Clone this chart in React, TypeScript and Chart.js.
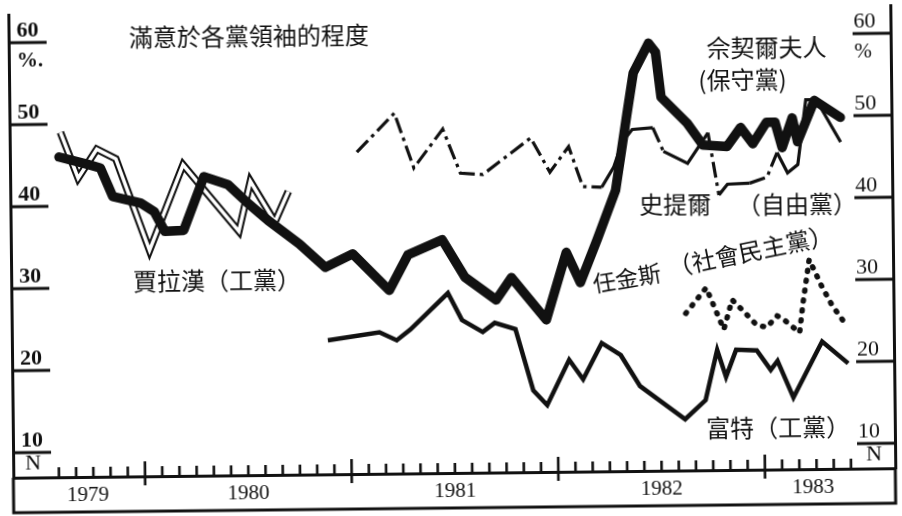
import React, { useEffect, useRef } from 'react';
import { Chart, registerables } from 'chart.js';

Chart.register(...registerables);

// Months are counted from January 1979 (0 = Jan 1979, 12 = Jan 1980 ...)
const yearLabels = ['1979', '1980', '1981', '1982', '1983'];
const yTickValues = [10, 20, 30, 40, 50, 60];

// 佘契爾夫人（保守黨）
const thatcherMonths = [7.2, 8.8, 9.6, 10.3, 11.9, 12.7, 13.3, 14.4, 15.6, 17.0, 18.1, 19.3, 21.1, 22.6, 24.2, 26.3, 27.4, 29.4, 30.7, 32.5, 33.4, 35.4, 36.6, 37.4, 38.4, 39.5, 40.2, 40.6, 41.5, 41.9, 42.2, 43.7, 44.6, 46.0, 46.8, 47.5, 48.3, 48.8, 49.2, 49.8, 50.1, 51.1, 52.6];
const thatcherValues = [46.0, 45.1, 44.6, 41.1, 40.3, 39.2, 36.8, 36.9, 43.4, 42.4, 40.2, 38.0, 35.1, 32.2, 33.8, 29.3, 33.6, 35.4, 30.8, 28.0, 30.7, 25.5, 33.7, 30.0, 35.2, 41.2, 50.4, 55.5, 59.1, 58.0, 52.5, 49.3, 46.6, 46.4, 48.7, 46.7, 49.3, 49.3, 46.2, 49.8, 46.9, 51.9, 49.8];

// 賈拉漢（工黨）
const callaghanMonths = [7.3, 8.3, 9.4, 10.5, 12.4, 14.4, 17.6, 18.3, 19.7, 20.5];
const callaghanValues = [49.0, 43.4, 46.9, 45.7, 34.5, 44.9, 36.7, 42.8, 37.8, 41.5];

// 富特（工黨）
const footMonths = [22.7, 25.7, 26.7, 27.5, 29.7, 30.5, 31.7, 32.4, 33.6, 34.6, 35.4, 36.7, 37.5, 38.6, 39.7, 40.8, 43.4, 44.6, 45.3, 45.8, 46.4, 47.6, 48.4, 48.8, 49.7, 51.4, 52.9];
const footValues = [23.3, 24.2, 23.2, 24.5, 28.9, 25.6, 24.1, 25.2, 24.4, 16.9, 15.1, 20.6, 18.2, 22.6, 21.1, 17.3, 13.2, 15.5, 21.6, 18.3, 21.6, 21.5, 19.1, 20.2, 15.7, 22.5, 19.8];

// 史提爾（自由黨）
const steelMonths = [24.5, 26.7, 27.8, 29.5, 30.5, 31.8, 34.6, 35.7, 36.8, 37.6, 38.7, 39.4, 39.9, 40.5, 41.7, 42.3, 43.7, 44.9, 45.5, 46.0, 47.3, 48.3, 48.9, 49.5, 50.1, 50.6, 51.2, 52.6];
const steelValues = [46.2, 50.9, 44.2, 48.9, 43.5, 43.3, 47.7, 43.5, 46.6, 41.7, 41.6, 44.0, 47.0, 48.6, 48.8, 45.9, 44.4, 48.1, 40.5, 41.8, 41.9, 42.6, 45.6, 43.1, 44.1, 52.0, 52.0, 46.8];

// 任金斯（社會民主黨）
const jenkinsMonths = [43.5, 44.7, 45.7, 46.2, 46.9, 47.6, 48.2, 48.8, 49.2, 50.1, 50.3, 50.7, 51.4, 52.0, 52.6];
const jenkinsValues = [26.1, 29.2, 24.1, 27.7, 26.2, 24.6, 24.3, 25.7, 25.2, 23.6, 27.0, 32.5, 29.3, 26.9, 25.1];

// ---- styling / layout ----
const INK = '#111111';
const SERIF = '"Liberation Serif", "DejaVu Serif", serif';
const CJK = '"Noto Sans CJK TC", "Noto Sans CJK SC", sans-serif';

const X_MIN = 4.35;
const X_MAX = 55.57;
const Y_MIN = 6.95;
const Y_MAX = 63.41;
const FIRST_MONTH_TICK = 7;
const LAST_MONTH_TICK = 53;

// dash-dot stretches of the Liberal line (by starting month of a segment)
const STEEL_DASH_RANGES = [[0, 38.0], [41.6, 41.8], [44.8, 45.0], [47.2, 48.4]];
const steelDashed = (m: number) => STEEL_DASH_RANGES.some(([a, b]) => m >= a && m <= b);

// text annotations anchored in data coordinates
const annotations = [
  { text: '滿意於各黨領袖的程度', x: 18.3, y: 60.5, size: 24, angle: 0 },
  { text: '佘契爾夫人', x: 48.35, y: 58.4, size: 24, angle: 0 },
  { text: '(保守黨)', x: 46.94, y: 54.5, size: 24, angle: 0 },
  { text: '史提爾', x: 42.95, y: 39.45, size: 24, angle: 0 },
  { text: '（自由黨）', x: 50.03, y: 39.3, size: 24, angle: 0 },
  { text: '任金斯', x: 40.1, y: 30.45, size: 23, angle: -9 },
  { text: '（社會民主黨）', x: 47.3, y: 33.6, size: 24, angle: -11 },
  { text: '賈拉漢（工黨）', x: 16.3, y: 30.8, size: 24, angle: 0 },
  { text: '富特（工黨）', x: 48.79, y: 12.1, size: 24, angle: 0 },
];

const pts = (ms: number[], vs: number[]) => ms.map((m, i) => ({ x: m, y: vs[i] }));

const labelLo = X_MIN + 1;
const labelHi = LAST_MONTH_TICK + 0.6;
const yearTickValues = yearLabels.map((_, i) => (Math.max(12 * i, labelLo) + Math.min(12 * (i + 1), labelHi)) / 2);

const decorPlugin = {
  id: 'decor',
  afterDraw(chart: any) {
    const { ctx, chartArea } = chart;
    const { left, right, bottom } = chartArea;
    const xs = chart.scales.x;
    const ys = chart.scales.y;
    const frameBottom = xs.bottom;
    ctx.save();
    ctx.strokeStyle = INK;
    ctx.fillStyle = INK;
    ctx.lineCap = 'butt';

    // frame below the axis and the short value ticks
    ctx.lineWidth = 3;
    ctx.beginPath();
    ctx.moveTo(left, bottom);
    ctx.lineTo(left, frameBottom + 1.5);
    ctx.moveTo(right, bottom);
    ctx.lineTo(right, frameBottom + 1.5);
    ctx.moveTo(left, frameBottom);
    ctx.lineTo(right, frameBottom);
    for (const v of yTickValues) {
      const py = ys.getPixelForValue(v);
      ctx.moveTo(left, py);
      ctx.lineTo(left + 38, py);
      ctx.moveTo(right - 38, py);
      ctx.lineTo(right, py);
    }
    ctx.stroke();

    // month ticks, longer at year boundaries
    ctx.lineWidth = 2.6;
    ctx.beginPath();
    for (let m = FIRST_MONTH_TICK; m <= LAST_MONTH_TICK; m++) {
      const px = xs.getPixelForValue(m);
      const major = m % 12 === 0;
      ctx.moveTo(px, bottom + (major ? 9 : 0));
      ctx.lineTo(px, bottom - (major ? 15 : 10));
    }
    ctx.stroke();

    // unit marks
    ctx.textBaseline = 'middle';
    ctx.font = `bold 21px ${SERIF}`;
    ctx.textAlign = 'left';
    ctx.fillText('%.', left + 8, ys.getPixelForValue(57.7));
    ctx.font = `21px ${SERIF}`;
    ctx.textAlign = 'right';
    ctx.fillText('%', right - 19, ys.getPixelForValue(57.8));
    ctx.font = `22px ${SERIF}`;
    ctx.textAlign = 'left';
    ctx.fillText('N', left + 12, ys.getPixelForValue(8.66));
    ctx.textAlign = 'right';
    ctx.fillText('N', right - 13, ys.getPixelForValue(8.66));

    // labels
    ctx.textAlign = 'center';
    for (const a of annotations) {
      ctx.save();
      ctx.translate(xs.getPixelForValue(a.x), ys.getPixelForValue(a.y));
      ctx.rotate((a.angle * Math.PI) / 180);
      ctx.font = `${a.size}px ${CJK}`;
      ctx.fillText(a.text, 0, 0);
      ctx.restore();
    }
    ctx.restore();
  },
};

export default function App() {
  const ref = useRef<HTMLCanvasElement>(null);

  useEffect(() => {
    if (!ref.current) return;
    const yAxis = (position: 'left' | 'right', padding: number, weight: string) => ({
      type: 'linear' as const,
      position,
      min: Y_MIN,
      max: Y_MAX,
      afterBuildTicks: (s: any) => {
        s.ticks = yTickValues.map((v) => ({ value: v }));
      },
      afterFit: (s: any) => {
        s.width = 0;
        s.paddingTop = 0;
        s.paddingBottom = 0;
      },
      ticks: {
        mirror: true,
        padding,
        labelOffset: -12,
        autoSkip: false,
        color: INK,
        font: { family: SERIF, size: 22, weight },
        callback: (v: any) => String(v),
      },
      grid: { display: false, drawTicks: false },
      border: { display: true, color: INK, width: 3 },
    });

    const chart = new Chart(ref.current, {
      type: 'line',
      data: {
        datasets: [
          {
            label: '佘契爾夫人（保守黨）',
            data: pts(thatcherMonths, thatcherValues),
            borderColor: INK,
            borderWidth: 9.5,
            borderJoinStyle: 'round',
            borderCapStyle: 'round',
            pointRadius: 0,
            tension: 0,
            fill: false,
          },
          {
            label: '賈拉漢（工黨）',
            data: pts(callaghanMonths, callaghanValues),
            borderColor: '#ffffff',
            borderWidth: 3.5,
            borderJoinStyle: 'miter',
            pointRadius: 0,
            tension: 0,
            fill: false,
          },
          {
            label: '賈拉漢（工黨）',
            data: pts(callaghanMonths, callaghanValues),
            borderColor: INK,
            borderWidth: 7.5,
            borderJoinStyle: 'miter',
            pointRadius: 0,
            tension: 0,
            fill: false,
          },
          {
            label: '富特（工黨）',
            data: pts(footMonths, footValues),
            borderColor: INK,
            borderWidth: 4.5,
            borderJoinStyle: 'miter',
            pointRadius: 0,
            tension: 0,
            fill: false,
          },
          {
            label: '史提爾（自由黨）',
            data: pts(steelMonths, steelValues),
            borderColor: INK,
            borderWidth: 3.2,
            borderJoinStyle: 'miter',
            pointRadius: 0,
            tension: 0,
            fill: false,
            segment: {
              borderDash: (c: any) => (steelDashed(c.p0.parsed.x) ? [16, 5, 3.5, 5] : undefined),
            },
          },
          {
            label: '任金斯（社會民主黨）',
            data: pts(jenkinsMonths, jenkinsValues),
            borderColor: INK,
            borderWidth: 5.5,
            borderDash: [1, 9],
            borderCapStyle: 'round',
            pointRadius: 0,
            tension: 0,
            fill: false,
          },
        ] as any,
      },
      options: {
        responsive: false,
        animation: false,
        events: [],
        layout: { padding: { left: 11, right: 9, top: 10, bottom: 8 } },
        plugins: {
          legend: { display: false },
          tooltip: { enabled: false },
          title: { display: false },
        },
        scales: {
          x: {
            type: 'linear',
            min: X_MIN,
            max: X_MAX,
            afterBuildTicks: (s: any) => {
              s.ticks = yearTickValues.map((v) => ({ value: v }));
            },
            afterFit: (s: any) => {
              s.height = 35;
              s.paddingLeft = 0;
              s.paddingRight = 0;
            },
            ticks: {
              autoSkip: false,
              maxRotation: 0,
              minRotation: 0,
              padding: 6,
              color: INK,
              font: { family: SERIF, size: 21 },
              callback: (_v: any, i: number) => yearLabels[i],
            },
            grid: { display: false, drawTicks: false },
            border: { display: true, color: INK, width: 3 },
          },
          y: yAxis('left', 8, 'bold') as any,
          y2: yAxis('right', -15, 'normal') as any,
        },
      },
      plugins: [decorPlugin],
    });
    return () => chart.destroy();
  }, []);

  return (
    <div
      style={{
        position: 'fixed',
        left: 0,
        top: 0,
        width: 902,
        height: 516,
        background: '#ffffff',
        transform: 'rotate(-0.62deg)',
        transformOrigin: '451px 258px',
      }}
    >
      <canvas ref={ref} width={902} height={516} style={{ display: 'block', width: 902, height: 516 }} />
    </div>
  );
}
